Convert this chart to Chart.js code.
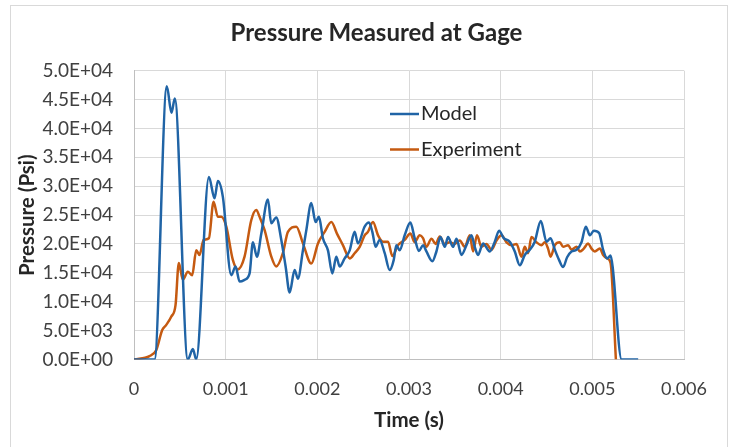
<!DOCTYPE html>
<html>
<head>
<meta charset="utf-8">
<script src="https://cdn.jsdelivr.net/npm/chart.js@4.4.1/dist/chart.umd.min.js"></script>
<style>
    html, body { margin: 0; padding: 0; background: #fff; }
</style>
</head>
<body>
<canvas id="pressure_chart" width="730" height="447"></canvas>
<script>
// values
var modelTime = [0, 0.000224, 0.000358, 0.000409, 0.000445, 0.000587, 0.000642, 0.000679, 0.000817, 0.000879,
    0.000915, 0.000969, 0.001061, 0.001108, 0.001152, 0.001206, 0.001261, 0.001297, 0.001341, 0.001389,
    0.001461, 0.001497, 0.001552, 0.001607, 0.001654, 0.001698, 0.001752, 0.001788, 0.001843, 0.001880,
    0.001934, 0.001981, 0.002017, 0.002061, 0.002116, 0.002164, 0.002207, 0.002243, 0.002298, 0.002353,
    0.002407, 0.002443, 0.002516, 0.002563, 0.002600, 0.002636, 0.002680, 0.002735, 0.002789, 0.002833,
    0.002862, 0.002898, 0.002953, 0.003015, 0.003062, 0.003109, 0.003153, 0.003190, 0.003255, 0.003299,
    0.003343, 0.003390, 0.003426, 0.003480, 0.003518, 0.003572, 0.003627, 0.003681, 0.003717, 0.003753,
    0.003808, 0.003881, 0.003936, 0.003983, 0.004034, 0.004099, 0.004154, 0.004209, 0.004263, 0.004318,
    0.004372, 0.004438, 0.004500, 0.004544, 0.004591, 0.004638, 0.004681, 0.004725, 0.004773, 0.004828,
    0.004882, 0.004929, 0.004973, 0.005016, 0.005074, 0.005118, 0.005162, 0.005199, 0.005221, 0.005319,
    0.005500];
var modelPressure = [0, 0, 47300, 42700, 45200, 0, 1800, 0, 31600, 27900,
    30900, 28200, 14600, 16100, 13500, 13800, 14900, 20300, 17800, 21800,
    27700, 23600, 24600, 20700, 16100, 11600, 15500, 14000, 18900, 22400,
    27100, 23800, 24700, 21000, 18900, 14900, 17800, 16100, 17500, 18900,
    22100, 20100, 23000, 23700, 22100, 19500, 20700, 18400, 15500, 17200,
    19800, 18900, 21500, 23700, 21000, 18800, 19800, 18700, 17000, 18700,
    21200, 19500, 21200, 19500, 20900, 18100, 19800, 21500, 19500, 18100,
    20100, 18700, 20400, 22300, 21000, 20400, 18700, 16300, 18100, 19000,
    20400, 24000, 20400, 21000, 19000, 17200, 16000, 17700, 18700, 19000,
    20300, 23000, 21500, 22300, 21900, 19000, 17500, 18000, 16100, 0,
    0];

var expTime = [0, 0.000169, 0.000242, 0.000308, 0.000352, 0.000406, 0.000453, 0.000489, 0.000533, 0.000587,
    0.000635, 0.000679, 0.000715, 0.000759, 0.000817, 0.000868, 0.000915, 0.000952, 0.001007, 0.001079,
    0.001133, 0.001206, 0.001279, 0.001334, 0.001370, 0.001425, 0.001498, 0.001552, 0.001624, 0.001679,
    0.001771, 0.001843, 0.001934, 0.002007, 0.002080, 0.002153, 0.002214, 0.002279, 0.002353, 0.002407,
    0.002462, 0.002516, 0.002552, 0.002607, 0.002662, 0.002716, 0.002771, 0.002819, 0.002880, 0.002953,
    0.003015, 0.003062, 0.003117, 0.003153, 0.003190, 0.003245, 0.003291, 0.003335, 0.003390, 0.003444,
    0.003499, 0.003554, 0.003608, 0.003663, 0.003699, 0.003742, 0.003790, 0.003845, 0.003900, 0.003954,
    0.004009, 0.004063, 0.004118, 0.004173, 0.004227, 0.004263, 0.004299, 0.004336, 0.004390, 0.004445,
    0.004481, 0.004517, 0.004544, 0.004591, 0.004645, 0.004681, 0.004736, 0.004773, 0.004828, 0.004864,
    0.004907, 0.004954, 0.004991, 0.005027, 0.005082, 0.005118, 0.005162, 0.005199, 0.005257];
var expPressure = [0, 600, 1600, 5100, 6000, 7400, 9400, 16700, 13800, 15200,
    14600, 18900, 18100, 20700, 21000, 27300, 24700, 24700, 23000, 17200,
    15600, 17800, 24100, 25900, 24700, 22400, 17800, 16100, 18400, 22100,
    23000, 20100, 16600, 20100, 22100, 23800, 21800, 19800, 17500, 18400,
    19500, 21500, 22100, 23800, 21500, 20400, 20400, 17900, 19800, 20700,
    21800, 20300, 21500, 21000, 19500, 20900, 20000, 21300, 20000, 20300,
    20000, 20600, 19500, 21500, 18700, 21500, 19500, 20000, 19000, 20600,
    21500, 20300, 19800, 20000, 17800, 19500, 18400, 21200, 20300, 19800,
    20300, 19200, 17800, 19800, 20300, 19500, 19800, 19000, 19500, 18700,
    19200, 20100, 19200, 18700, 19200, 18100, 17500, 16700, 0];

var xStep = 0.001;
var xTickLabels = ['0', '0.001', '0.002', '0.003', '0.004', '0.005', '0.006'];
var yStep = 5000;
var yTickLabels = ['0.0E+00', '5.0E+03', '1.0E+04', '1.5E+04', '2.0E+04', '2.5E+04',
    '3.0E+04', '3.5E+04', '4.0E+04', '4.5E+04', '5.0E+04'];

function toPoints(xs, ys) {
    return xs.map(function (x, i) { return { x: x, y: ys[i] }; });
}

// outer chart frame, drawn before everything else
var frame = {
    id: 'frame',
    beforeDraw: function (chart) {
        var ctx = chart.ctx;
        ctx.save();
        ctx.fillStyle = '#fff';
        ctx.fillRect(0, 0, chart.width, chart.height);
        ctx.strokeStyle = '#d9d9d9';
        ctx.lineWidth = 1;
        ctx.strokeRect(10.5, 5.5, 717, 460);
        ctx.restore();
    }
};

// chart title (centred off the plot like excel does), legend inside the plot, y axis title
var extras = {
    id: 'extras',
    afterDatasetsDraw: function (chart) {
        var ctx = chart.ctx;
        var area = chart.chartArea;
        ctx.save();
        ctx.fillStyle = '#262626';
        ctx.textAlign = 'center';
        ctx.textBaseline = 'middle';
        ctx.font = 'bold 24px Lato';
        ctx.fillText('Pressure Measured at Gage', 376.5, 33);

        ctx.textAlign = 'left';
        ctx.font = '20px Lato';
        chart.data.datasets.forEach(function (ds, i) {
            var y = 114 + i * 35.5;
            ctx.strokeStyle = ds.borderColor;
            ctx.lineWidth = 2.5;
            ctx.beginPath();
            ctx.moveTo(390, y);
            ctx.lineTo(419, y);
            ctx.stroke();
            ctx.fillText(ds.label, 421, y);
        });

        ctx.translate(27, (area.top + area.bottom) / 2);
        ctx.rotate(-Math.PI / 2);
        ctx.font = 'bold 20.5px Lato';
        ctx.textAlign = 'center';
        ctx.fillText('Pressure (Psi)', 0, 0);
        ctx.restore();
    }
};

Chart.defaults.font.family = 'Lato';

new Chart(document.getElementById('pressure_chart').getContext('2d'), {
    type: 'line',
    data: {
        datasets: [{
            label: 'Model',
            data: toPoints(modelTime, modelPressure),
            borderColor: '#2064a6',
            borderWidth: 2.5,
            pointRadius: 0,
            cubicInterpolationMode: 'monotone',
            fill: false
        }, {
            label: 'Experiment',
            data: toPoints(expTime, expPressure),
            borderColor: '#c55a11',
            borderWidth: 2.5,
            pointRadius: 0,
            cubicInterpolationMode: 'monotone',
            fill: false
        }]
    },
    options: {
        responsive: false,
        animation: false,
        devicePixelRatio: 1,
        layout: { padding: { left: 0, right: 46, top: 70.7, bottom: 0 } },
        plugins: {
            legend: { display: false },
            tooltip: { enabled: false },
            title: { display: false }
        },
        scales: {
            x: {
                type: 'linear',
                min: 0,
                max: 0.006,
                afterFit: function (scale) { scale.height = 87.5; },
                ticks: {
                    stepSize: xStep,
                    padding: 19,
                    color: '#404040',
                    font: { size: 18 },
                    maxRotation: 0,
                    callback: function (value) { return xTickLabels[Math.round(value / xStep)]; }
                },
                grid: { color: '#d9d9d9', drawTicks: false },
                border: { color: '#bfbfbf' },
                title: {
                    display: true,
                    text: 'Time (s)',
                    color: '#262626',
                    font: { size: 20.5, weight: 'bold' },
                    padding: { top: 0, bottom: 14.7 }
                }
            },
            y: {
                min: 0,
                max: 50000,
                afterFit: function (scale) { scale.width = 134; },
                ticks: {
                    stepSize: yStep,
                    padding: 21,
                    color: '#404040',
                    font: { size: 19 },
                    callback: function (value) { return yTickLabels[Math.round(value / yStep)]; }
                },
                grid: { color: '#d9d9d9', drawTicks: false },
                border: { color: '#bfbfbf' }
            }
        }
    },
    plugins: [frame, extras]
});
</script>
</body>
</html>
